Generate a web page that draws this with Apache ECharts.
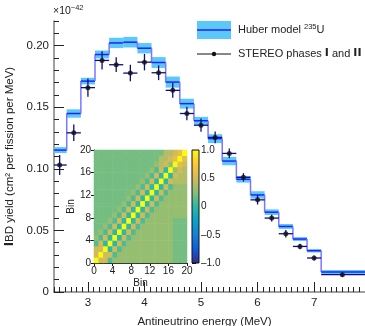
<!DOCTYPE html>
<html>
<head>
<meta charset="utf-8">
<script src="https://cdn.jsdelivr.net/npm/echarts@6/dist/echarts.min.js"></script>
<style>
  html, body { margin: 0; padding: 0; background: #fff; }
  #chart { width: 365px; height: 326px; }
</style>
</head>
<body>
<div id="chart"></div>
<script>
// energy bins (MeV)
const binLo = [2.375, 2.625, 2.875, 3.125, 3.375, 3.625, 3.875, 4.125, 4.375, 4.625, 4.875, 5.125, 5.375, 5.625, 5.875, 6.125, 6.375, 6.625, 6.875, 7.125];
const binHi = [2.625, 2.875, 3.125, 3.375, 3.625, 3.875, 4.125, 4.375, 4.625, 4.875, 5.125, 5.375, 5.625, 5.875, 6.125, 6.375, 6.625, 6.875, 7.125, 8.0];
const pointE = [2.5, 2.75, 3.0, 3.25, 3.5, 3.75, 4.0, 4.25, 4.5, 4.75, 5.0, 5.25, 5.5, 5.75, 6.0, 6.25, 6.5, 6.75, 7.0, 7.5];

// Huber model 235U (x1e-42)
const huberYield = [0.1152, 0.1449, 0.1712, 0.1928, 0.2022, 0.2028, 0.1979, 0.1863, 0.1704, 0.1529, 0.1390, 0.1245, 0.1063, 0.0915, 0.0788, 0.0648, 0.0532, 0.0430, 0.0335, 0.0163];
const huberErr = [0.0024, 0.0034, 0.0027, 0.0032, 0.0042, 0.0043, 0.0042, 0.0044, 0.0045, 0.0040, 0.0032, 0.0036, 0.0034, 0.0027, 0.0030, 0.0023, 0.0020, 0.0016, 0.0014, 0.0016];

// STEREO phases I and II
const stereoYield = [0.1031, 0.1292, 0.1659, 0.1880, 0.1845, 0.1777, 0.1866, 0.1780, 0.1637, 0.1449, 0.1354, 0.1255, 0.1125, 0.0931, 0.0748, 0.0600, 0.0473, 0.0370, 0.0276, 0.0141];
const stereoErr = [0.0081, 0.0067, 0.0074, 0.0074, 0.0060, 0.0067, 0.0067, 0.0060, 0.0060, 0.0054, 0.0054, 0.0047, 0.0040, 0.0034, 0.0038, 0.0027, 0.0030, 0.0022, 0.0020, 0.0018];

const xMajorTicks = [3, 4, 5, 6, 7];
const yMajorTicks = [0, 0.05, 0.1, 0.15, 0.2];
const binTicks = [0, 4, 8, 12, 16, 20];
const binNames = ['0','1','2','3','4','5','6','7','8','9','10','11','12','13','14','15','16','17','18','19'];

// correlation matrix, row 0 = bottom bin
const corrRows = [
  [1.0,0.5,0.5,0.1,0.3,0.3,0.3,0.3,0.3,0.3,0.3,0.3,0.3,0.3,0.3,0.3,0.3,0.2,0.2,0.2],
  [0.5,1.0,0.5,0.5,0.1,0.3,0.3,0.3,0.3,0.3,0.3,0.3,0.3,0.3,0.3,0.3,0.3,0.2,0.2,0.2],
  [0.5,0.5,1.0,0.0,0.5,0.1,0.3,0.3,0.3,0.3,0.3,0.3,0.3,0.3,0.3,0.3,0.3,0.2,0.2,0.2],
  [0.1,0.5,0.0,1.0,0.0,0.5,0.1,0.3,0.3,0.3,0.3,0.3,0.3,0.3,0.3,0.3,0.3,0.2,0.2,0.2],
  [0.3,0.1,0.5,0.0,1.0,0.0,0.5,0.1,0.3,0.3,0.3,0.3,0.3,0.3,0.3,0.3,0.3,0.2,0.2,0.2],
  [0.2,0.3,0.1,0.5,0.0,1.0,0.0,0.5,0.1,0.3,0.3,0.3,0.3,0.3,0.3,0.3,0.3,0.2,0.2,0.2],
  [0.2,0.2,0.3,0.1,0.5,0.0,1.0,0.0,0.5,0.1,0.3,0.3,0.3,0.3,0.3,0.3,0.3,0.2,0.2,0.2],
  [0.2,0.2,0.2,0.3,0.1,0.5,0.0,1.0,0.0,0.5,0.1,0.3,0.3,0.3,0.3,0.3,0.3,0.2,0.2,0.2],
  [0.2,0.2,0.2,0.2,0.3,0.1,0.5,0.0,1.0,0.0,0.5,0.1,0.3,0.3,0.3,0.3,0.3,0.3,0.3,0.3],
  [0.2,0.2,0.2,0.2,0.2,0.3,0.1,0.5,0.0,1.0,0.0,0.5,0.1,0.3,0.3,0.3,0.3,0.3,0.3,0.3],
  [0.2,0.2,0.2,0.2,0.2,0.2,0.3,0.1,0.5,0.0,1.0,0.0,0.5,0.1,0.3,0.3,0.3,0.3,0.3,0.3],
  [0.2,0.2,0.2,0.2,0.2,0.2,0.2,0.3,0.1,0.5,0.0,1.0,0.0,0.5,0.1,0.3,0.3,0.3,0.3,0.3],
  [0.2,0.2,0.2,0.2,0.2,0.2,0.2,0.2,0.3,0.1,0.5,0.0,1.0,0.0,0.5,0.1,0.3,0.3,0.3,0.3],
  [0.2,0.2,0.2,0.2,0.2,0.2,0.2,0.2,0.2,0.3,0.1,0.5,0.0,1.0,0.0,0.5,0.1,0.3,0.3,0.3],
  [0.2,0.2,0.2,0.2,0.2,0.2,0.2,0.2,0.2,0.2,0.3,0.1,0.5,0.0,1.0,0.0,0.5,0.4,0.4,0.4],
  [0.2,0.2,0.2,0.2,0.2,0.2,0.2,0.2,0.2,0.2,0.2,0.3,0.1,0.5,0.0,1.0,0.0,0.5,0.4,0.4],
  [0.2,0.2,0.2,0.2,0.2,0.2,0.2,0.2,0.2,0.2,0.2,0.2,0.3,0.1,0.5,0.0,1.0,0.3,0.5,0.4],
  [0.2,0.2,0.2,0.2,0.2,0.2,0.2,0.2,0.2,0.2,0.2,0.2,0.2,0.3,0.4,0.5,0.3,1.0,0.6,0.5],
  [0.2,0.2,0.2,0.2,0.2,0.2,0.2,0.2,0.2,0.2,0.2,0.2,0.2,0.2,0.4,0.4,0.5,0.6,1.0,0.6],
  [0.2,0.2,0.2,0.2,0.2,0.2,0.2,0.2,0.2,0.2,0.2,0.2,0.2,0.2,0.2,0.4,0.4,0.5,0.6,1.0]
];

const parula = ['#352a87', '#0f5cdd', '#1481d6', '#06a4ca', '#2eb7a4', '#87bf77', '#d1bb59', '#fec832', '#f9fb0e'];
const FONT = '"Liberation Sans", Arial, sans-serif';
const bandColor = '#5cc8f9';
const lineColor = '#2222ff';
const errColor = '#0b0b8c';
const X_MIN = 2.4, X_MAX = 7.9;

const heatData = [];
corrRows.forEach((row, r) => row.forEach((v, c) => heatData.push([c, r, v])));

const chart = echarts.init(document.getElementById('chart'));

const option = {
  animation: false,
  textStyle: { fontFamily: FONT },
  grid: [
    { left: 54, right: 0, top: 21, bottom: 34, outerBoundsMode: 'none', containLabel: false },
    { left: 94, top: 150, width: 93, height: 113, outerBoundsMode: 'none', containLabel: false },
    { left: 192, top: 150, width: 7, height: 113, outerBoundsMode: 'none', containLabel: false }
  ],
  xAxis: [
    {
      type: 'value', gridIndex: 0, min: X_MIN, max: X_MAX, interval: 0.1, position: 'bottom',
      axisLine: { lineStyle: { color: '#808080', width: 1.5 } },
      axisTick: { inside: true, length: 5, lineStyle: { color: '#222' } },
      axisLabel: { customValues: xMajorTicks, fontSize: 11.5, color: '#222', margin: 5 },
      splitLine: { show: false },
      name: 'Antineutrino energy (MeV)', nameLocation: 'middle', nameGap: 24,
      nameTextStyle: { fontSize: 11.5, color: '#222', padding: [0, 10, 0, 0] }
    },
    {
      type: 'value', gridIndex: 0, min: X_MIN, max: X_MAX, position: 'bottom',
      axisLine: { show: false },
      axisTick: { inside: true, length: 10, customValues: xMajorTicks, lineStyle: { color: '#222' } },
      axisLabel: { show: false },
      splitLine: { show: false }
    },
    { type: 'category', gridIndex: 1, data: binNames, show: false },
    {
      type: 'value', gridIndex: 1, min: 0, max: 20, interval: 4, position: 'bottom',
      axisLine: { lineStyle: { color: '#111', width: 1 } },
      axisTick: { length: 3, lineStyle: { color: '#111' } },
      axisLabel: { customValues: binTicks, fontSize: 10, color: '#222', margin: 3 },
      splitLine: { show: false },
      name: 'Bin', nameLocation: 'middle', nameGap: 15,
      nameTextStyle: { fontSize: 10, color: '#222' }
    },
    { type: 'value', gridIndex: 2, min: 0, max: 1, show: false }
  ],
  yAxis: [
    {
      type: 'value', gridIndex: 0, min: 0, max: 0.22, interval: 0.01, position: 'left',
      axisLine: { show: true, lineStyle: { color: '#808080', width: 1.5 } },
      axisTick: { show: true, inside: true, length: 5, lineStyle: { color: '#222' } },
      axisLabel: {
        customValues: yMajorTicks, fontSize: 11.5, color: '#222', margin: 5,
        formatter: v => (v === 0 ? '0' : v.toFixed(2))
      },
      splitLine: { show: false },
      name: '{b|I}BD yield (cm² per fission per MeV)', nameLocation: 'middle', nameGap: 36,
      nameTextStyle: {
        fontSize: 11.5, color: '#222',
        rich: { b: { fontSize: 11.5, fontWeight: 900, fontFamily: '"DejaVu Sans", sans-serif', color: '#222' } }
      }
    },
    {
      type: 'value', gridIndex: 0, min: 0, max: 0.22, position: 'left',
      axisLine: { show: false },
      axisTick: { show: true, inside: true, length: 10, customValues: yMajorTicks, lineStyle: { color: '#222' } },
      axisLabel: { show: false },
      splitLine: { show: false }
    },
    { type: 'category', gridIndex: 1, data: binNames, show: false },
    {
      type: 'value', gridIndex: 1, min: 0, max: 20, interval: 4, position: 'left',
      axisLine: { show: true, lineStyle: { color: '#111', width: 1 } },
      axisTick: { show: true, length: 3, lineStyle: { color: '#111' } },
      axisLabel: { customValues: binTicks, fontSize: 10, color: '#222', margin: 3 },
      splitLine: { show: false },
      name: 'Bin', nameLocation: 'middle', nameGap: 18,
      nameTextStyle: { fontSize: 10, color: '#222' }
    },
    {
      type: 'value', gridIndex: 2, min: -1, max: 1, interval: 0.5, position: 'right',
      axisLine: { show: false },
      axisTick: { show: true, length: 4, lineStyle: { color: '#111' } },
      axisLabel: {
        fontSize: 10, color: '#222', margin: 2,
        formatter: v => (v === 0 ? '0' : (v < 0 ? '\u2013' : '') + Math.abs(v).toFixed(1))
      },
      splitLine: { show: false }
    }
  ],
  visualMap: {
    type: 'continuous', min: -1, max: 1, show: false, seriesIndex: 4,
    inRange: { color: parula }
  },
  graphic: [
    {
      type: 'text', left: 53, top: 4,
      style: {
        text: '{a|×10}{s|\u221242}', fill: '#222',
        rich: { a: { fontSize: 10.5, fontFamily: FONT, padding: [6, 0, 0, 0] }, s: { fontSize: 7.5, fontFamily: FONT } }
      }
    },
    { type: 'rect', shape: { x: 197, y: 21, width: 34, height: 18 }, style: { fill: bandColor } },
    { type: 'line', shape: { x1: 197, y1: 30, x2: 231, y2: 30 }, style: { stroke: lineColor, lineWidth: 1.5 } },
    {
      type: 'text', left: 238, top: 23,
      style: {
        text: '{a|Huber model }{s|235}{a|U}', fill: '#222',
        rich: { a: { fontSize: 11, fontFamily: FONT, padding: [5, 0, 0, 0] }, s: { fontSize: 7.5, fontFamily: FONT } }
      }
    },
    { type: 'line', shape: { x1: 197, y1: 54, x2: 231, y2: 54 }, style: { stroke: '#111', lineWidth: 1.2 } },
    { type: 'circle', shape: { cx: 214, cy: 54, r: 2.2 }, style: { fill: '#111' } },
    {
      type: 'text', left: 238, top: 48,
      style: {
        text: '{a|STEREO phases }{r|I}{a| and }{r|II}', fill: '#222',
        rich: {
          a: { fontSize: 11, fontFamily: FONT },
          r: { fontSize: 11, fontWeight: 900, fontFamily: '"DejaVu Sans", sans-serif' }
        }
      }
    },
    {
      type: 'text', left: 100, top: 154,
      style: { text: 'Correlation', fill: '#111', fontSize: 10, fontFamily: FONT }
    }
  ],
  series: [
    {
      // model uncertainty band
      type: 'custom', xAxisIndex: 0, yAxisIndex: 0, clip: true, z: 2,
      data: binLo.map((lo, i) => [lo, binHi[i], huberYield[i] - huberErr[i], huberYield[i] + huberErr[i]]),
      encode: { x: [0, 1], y: [2, 3] },
      renderItem: (params, api) => {
        const p0 = api.coord([api.value(0), api.value(3)]);
        const p1 = api.coord([api.value(1), api.value(2)]);
        return {
          type: 'rect',
          shape: { x: p0[0], y: p0[1], width: p1[0] - p0[0], height: p1[1] - p0[1] },
          style: { fill: bandColor }
        };
      }
    },
    {
      // model step line
      type: 'custom', xAxisIndex: 0, yAxisIndex: 0, clip: true, z: 3,
      data: binLo.map((lo, i) => [lo, binHi[i], huberYield[i]]),
      encode: { x: [0, 1], y: 2 },
      renderItem: (params, api) => {
        const i = params.dataIndex;
        const a = api.coord([api.value(0), api.value(2)]);
        const b = api.coord([api.value(1), api.value(2)]);
        const children = [{
          type: 'line', shape: { x1: a[0], y1: a[1], x2: b[0], y2: b[1] },
          style: { stroke: lineColor, lineWidth: 1.5 }
        }];
        if (i + 1 < huberYield.length) {
          const c = api.coord([api.value(1), huberYield[i + 1]]);
          children.push({
            type: 'line', shape: { x1: b[0], y1: b[1], x2: c[0], y2: c[1] },
            style: { stroke: '#7878ff', lineWidth: 1.5 }
          });
        }
        return { type: 'group', children };
      }
    },
    {
      // STEREO error bars
      type: 'custom', xAxisIndex: 0, yAxisIndex: 0, clip: true, z: 4,
      data: binLo.map((lo, i) => [lo, binHi[i], pointE[i], stereoYield[i], stereoErr[i]]),
      encode: { x: [0, 1], y: 3 },
      renderItem: (params, api) => {
        const v = api.value(3), e = api.value(4);
        const h0 = api.coord([api.value(0), v]);
        const h1 = api.coord([api.value(1), v]);
        const v0 = api.coord([api.value(2), v - e]);
        const v1 = api.coord([api.value(2), v + e]);
        return {
          type: 'group',
          children: [
            { type: 'line', shape: { x1: h0[0], y1: h0[1], x2: h1[0], y2: h1[1] }, style: { stroke: errColor, lineWidth: 1.3 } },
            { type: 'line', shape: { x1: v0[0], y1: v0[1], x2: v1[0], y2: v1[1] }, style: { stroke: errColor, lineWidth: 1.3 } }
          ]
        };
      }
    },
    {
      type: 'scatter', xAxisIndex: 0, yAxisIndex: 0, z: 5,
      symbolSize: 5, itemStyle: { color: '#111' },
      data: pointE.map((e, i) => [e, stereoYield[i]])
    },
    {
      type: 'heatmap', xAxisIndex: 2, yAxisIndex: 2,
      data: heatData
    },
    {
      // colour bar
      type: 'custom', xAxisIndex: 4, yAxisIndex: 4,
      data: [[0, 1, -1, 1]],
      renderItem: (params, api) => {
        const p0 = api.coord([api.value(0), api.value(3)]);
        const p1 = api.coord([api.value(1), api.value(2)]);
        const stops = parula.map((c, k) => ({ offset: 1 - k / (parula.length - 1), color: c })).reverse();
        return {
          type: 'rect',
          shape: { x: p0[0], y: p0[1], width: p1[0] - p0[0], height: p1[1] - p0[1] },
          style: { fill: new echarts.graphic.LinearGradient(0, 0, 0, 1, stops), stroke: '#111', lineWidth: 1 }
        };
      }
    }
  ]
};

chart.setOption(option);
</script>
</body>
</html>
